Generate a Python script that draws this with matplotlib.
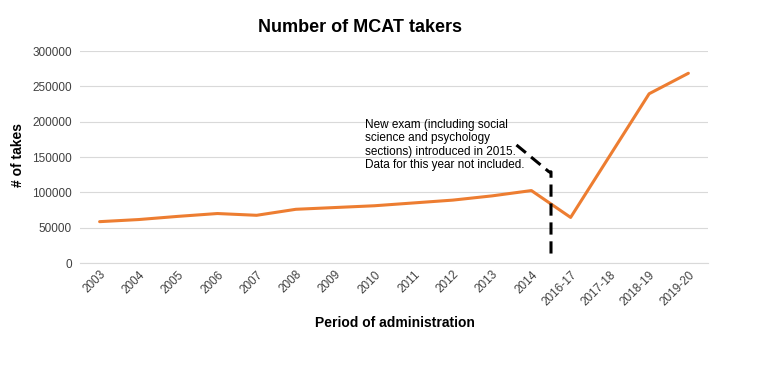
import matplotlib.pyplot as plt
import numpy as np

plt.rcParams['font.family'] = ['Liberation Sans', 'DejaVu Sans']

# data
periods = ['2003', '2004', '2005', '2006', '2007', '2008', '2009', '2010', '2011',
           '2012', '2013', '2014', '2016-17', '2017-18', '2018-19', '2019-20']
takers = [58500, 61500, 66000, 70000, 67500, 76000, 78500, 81000, 85000,
          89000, 95000, 102500, 64500, 152000, 239500, 268500]
yticks = [0, 50000, 100000, 150000, 200000, 250000, 300000]

# annotation marker (dashed pointer), in data coords
note_x = [10.62, 11.45, 11.5, 11.5]
note_y = [167000, 129000, 129000, 8000]
note = ('New exam (including social\nscience and psychology\n'
        'sections) introduced in 2015.\nData for this year not included.')

fig = plt.figure(figsize=(7.64, 3.77), dpi=100)
ax = fig.add_axes([80 / 764, 1 - 263 / 377, 628 / 764, 212 / 377])

x = np.arange(len(periods))
ax.plot(x, takers, color='#ED7D31', lw=2.2, solid_capstyle='round', zorder=3)
ax.plot(note_x, note_y, color='black', lw=2.2, dashes=(4, 2.2), zorder=4)
ax.text(6.75, 204000, note, fontsize=8.5, va='top', ha='left', linespacing=1.15)

ax.set_xlim(-0.5, len(periods) - 0.5)
ax.set_ylim(0, 300000)
ax.set_yticks(yticks)
ax.set_yticklabels([str(v) for v in yticks], fontsize=8.5, color='#404040')
ax.set_xticks(x)
ax.set_xticklabels(periods, rotation=45, ha='right', rotation_mode='anchor',
                   fontsize=8.5, color='#404040')
ax.tick_params(length=0, pad=6)
ax.tick_params(axis='x', pad=4)
ax.grid(axis='y', color='#d9d9d9', lw=0.8)
ax.set_axisbelow(True)
for s in ['top', 'right', 'left']:
    ax.spines[s].set_visible(False)
ax.spines['bottom'].set_color('#d9d9d9')

fig.text(360 / 764, 1 - 27 / 377, 'Number of MCAT takers', ha='center', va='center',
         fontsize=13, fontweight='bold')
fig.text(18 / 764, 1 - 155 / 377, '# of takes', ha='center', va='center',
         rotation=90, fontsize=10, fontweight='bold')
fig.text(395 / 764, 1 - 323 / 377, 'Period of administration', ha='center', va='center',
         fontsize=10, fontweight='bold')

fig.savefig('out.png', dpi=100)
